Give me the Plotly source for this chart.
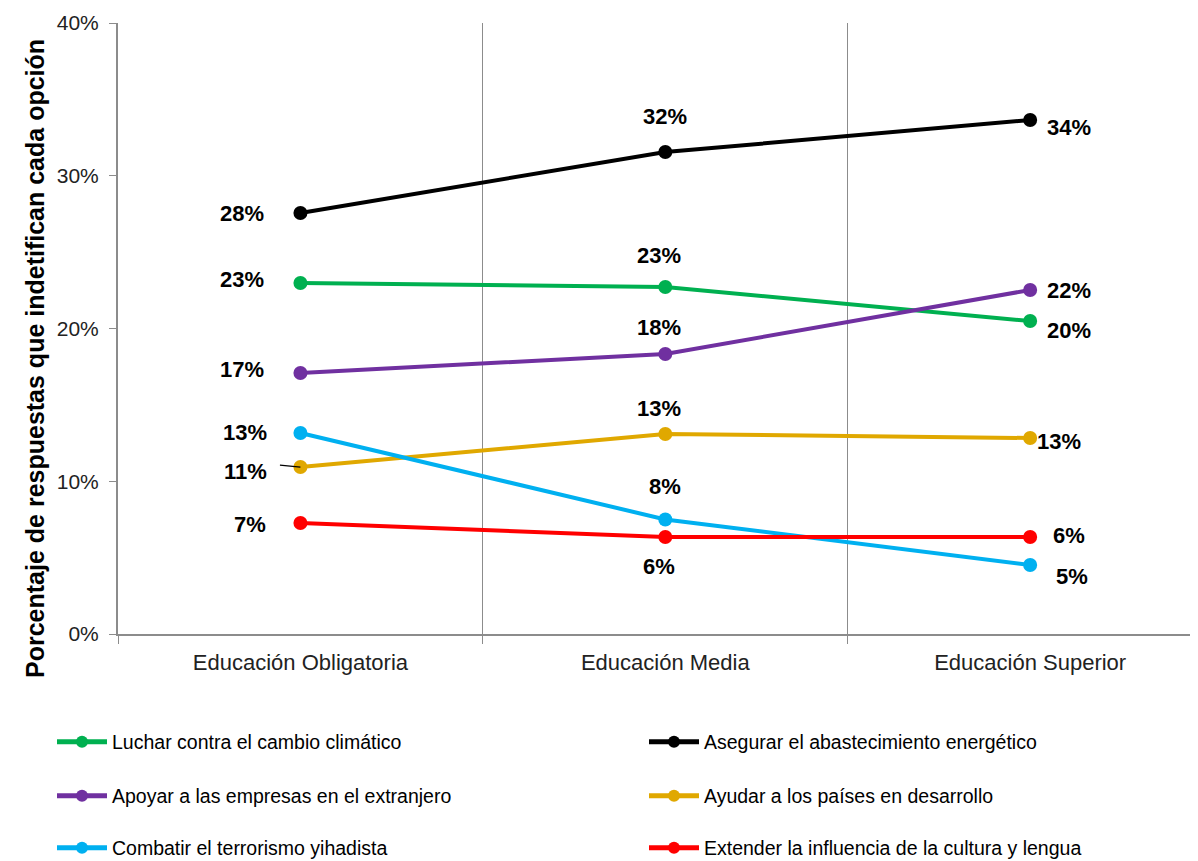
import plotly.graph_objects as go

CATEGORIES = ["Educación Obligatoria", "Educación Media", "Educación Superior"]

SERIES_NAMES = [
    "Luchar contra el cambio climático",
    "Asegurar el abastecimiento energético",
    "Apoyar a las empresas en el extranjero",
    "Ayudar a los países en desarrollo",
    "Combatir el terrorismo yihadista",
    "Extender la influencia de la cultura y lengua",
]

CLIMA = [22.98, 22.72, 20.49]
ENERGIA = [27.56, 31.55, 33.65]
EMPRESAS = [17.09, 18.33, 22.52]
DESARROLLO = [10.93, 13.09, 12.83]
TERRORISMO = [13.16, 7.5, 4.52]
CULTURA = [7.27, 6.35, 6.35]

CLIMA_LBL = ["23%", "23%", "20%"]
ENERGIA_LBL = ["28%", "32%", "34%"]
EMPRESAS_LBL = ["17%", "18%", "22%"]
DESARROLLO_LBL = ["11%", "13%", "13%"]
TERRORISMO_LBL = ["13%", "8%", "5%"]
CULTURA_LBL = ["7%", "6%", "6%"]

COLORS = ["#00B050", "#000000", "#7030A0", "#E0A800", "#00B0F0", "#FF0000"]

# label offsets in px (xshift, yshift), one per point
OFFSETS = [
    [(-58, 3), (-6, 31), (39, -9)],
    [(-58, 0), (0, 36), (39, -7)],
    [(-58, 3), (-6, 27), (39, 0)],
    [(-55, -4), (-6, 26), (29, -3)],
    [(-55, 0), (0, 33), (42, -12)],
    [(-50, -2), (-6, -29), (39, 2)],
]

FONT = "Liberation Sans, Arial, sans-serif"
GRAY = "#8c8c8c"

# the page body adds an 8px margin, so the figure is drawn 8px smaller
W, H = 1190, 853

values = [CLIMA, ENERGIA, EMPRESAS, DESARROLLO, TERRORISMO, CULTURA]
labels = [CLIMA_LBL, ENERGIA_LBL, EMPRESAS_LBL, DESARROLLO_LBL, TERRORISMO_LBL, CULTURA_LBL]

# one small legend per entry: 2 columns x 3 rows (pixel spots in the figure)
LEG_X = [44, 636]
LEG_Y = [734, 788, 840]

fig = go.Figure()
annotations = []
legends = {}
for i, name in enumerate(SERIES_NAMES):
    lid = "legend" if i == 0 else "legend%d" % (i + 1)
    fig.add_trace(go.Scatter(
        x=CATEGORIES, y=values[i], name=name, mode="lines+markers",
        line=dict(color=COLORS[i], width=4), marker=dict(color=COLORS[i], size=14),
        legend=lid,
    ))
    legends[lid] = dict(
        orientation="h", xref="container", yref="container",
        x=LEG_X[i % 2] / W, y=1 - LEG_Y[i // 2] / H,
        xanchor="left", yanchor="middle", itemsizing="constant", itemwidth=50,
        font=dict(family=FONT, size=19.5, color="black"), bgcolor="rgba(0,0,0,0)",
    )
    for j, v in enumerate(values[i]):
        dx, dy = OFFSETS[i][j]
        annotations.append(dict(
            x=j, y=v, xref="x", yref="y", text="<b>" + labels[i][j] + "</b>", showarrow=False,
            xshift=dx, yshift=dy, font=dict(family=FONT, size=22, color="black"),
        ))

# small leader line next to the 11% label
annotations.append(dict(
    x=0, y=DESARROLLO[0], xref="x", yref="y", text="", showarrow=True,
    arrowhead=0, arrowwidth=1.2, arrowcolor="black", ax=-22, ay=-2, standoff=0,
))

annotations.append(dict(
    x=(35 - 118) / 1080, y=(634 - 359) / 611, xref="paper", yref="paper",
    xanchor="center", yanchor="middle",
    text="<b>Porcentaje de respuestas que indetifican cada opción</b>",
    textangle=-90, showarrow=False, font=dict(family=FONT, size=25, color="black"),
))

fig.update_layout(
    width=W, height=H, showlegend=True,
    margin=dict(l=110, r=0, t=15, b=227),
    plot_bgcolor="white", paper_bgcolor="white",
    font=dict(family=FONT, color="#222"),
    annotations=annotations,
    **legends,
)
fig.update_xaxes(
    type="category", range=[-0.5, 2.46], tickson="boundaries", automargin=False,
    showgrid=True, gridcolor=GRAY, gridwidth=1,
    ticks="outside", ticklen=8, tickcolor=GRAY,
    showline=True, linecolor=GRAY, linewidth=2, ticklabelstandoff=8,
    tickfont=dict(family=FONT, size=22, color="#222"),
)
fig.update_yaxes(
    range=[0, 40], dtick=10, ticksuffix="%", showgrid=False, zeroline=False,
    automargin=False,
    ticks="outside", ticklen=7, tickcolor=GRAY,
    showline=True, linecolor=GRAY, linewidth=2, ticklabelstandoff=6,
    tickfont=dict(family=FONT, size=21, color="#222"),
)

fig.write_html("out.html")
